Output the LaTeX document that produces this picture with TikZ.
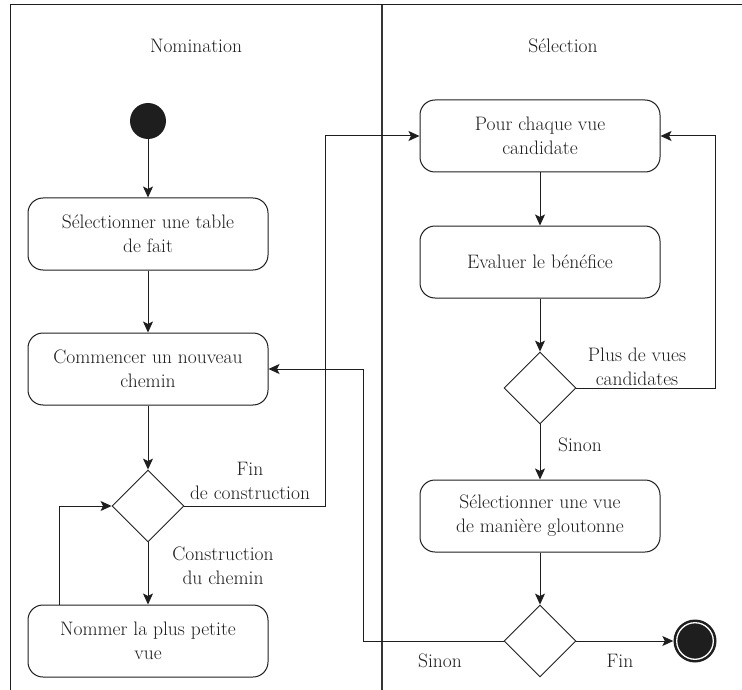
\documentclass[tikz,border=0pt]{standalone}
\usepackage{fontspec}
\usetikzlibrary{shapes.geometric,arrows.meta}
\definecolor{ink}{HTML}{1E1E1E}
\begin{document}
\begin{tikzpicture}[x=1pt,y=-1pt,
  every node/.style={font=\fontsize{19.5}{24}\selectfont, text=ink},
  act/.style={draw=ink, line width=1pt, rounded corners=15pt,
    minimum width=240pt, minimum height=72pt, align=center, inner sep=4pt},
  choice/.style={draw=ink, line width=0.9pt, diamond, minimum width=72pt,
    minimum height=72pt, inner sep=0pt},
  flow/.style={draw=ink, line width=1pt,
    -{Stealth[length=11pt,width=10pt,inset=2.5pt]}},
  lbl/.style={align=center, inner sep=0pt},
  lane/.style={draw=ink, line width=1pt}
]
\useasboundingbox (0,0) rectangle (742,690);

% swimlane frame
\draw[lane] (10,690) -- (10,5) -- (742,5);
\draw[draw=ink!90, line width=2.2pt] (382,5) -- (382,690);
\node[lbl] (laneA) at (196,46) {Nomination};
\node[lbl] (laneB) at (563,46) {Sélection};

% Nomination lane
\node[circle, fill=ink, minimum size=36pt, inner sep=0pt] (start) at (148,121) {};
\node[act] (fact)  at (148,234) {Sélectionner une table\\de fait};
\node[act] (path)  at (148,369) {Commencer un nouveau\\chemin};
\node[choice] (d1) at (148,506) {};
\node[act] (small) at (148,641) {Nommer la plus petite\\vue};

% Sélection lane
\node[act] (each)  at (540,136) {Pour chaque vue\\candidate};
\node[act] (gain)  at (540,262) {Evaluer le bénéfice};
\node[choice] (d2) at (540,388) {};
\node[act] (greedy) at (540,516) {Sélectionner une vue\\de manière gloutonne};
\node[choice] (d3) at (540,641) {};
\node[circle, fill=ink, minimum size=43pt, inner sep=0pt] (stop) at (695,641) {};
\draw[white, line width=1.3pt] (stop.center) circle (18.3);

% routing columns for the elbow connectors
\coordinate (jogA) at (325,0);
\coordinate (jogB) at (715,0);
\coordinate (jogC) at (363,0);

% connectors
\draw[flow] (start) -- (fact);
\draw[flow] (fact) -- (path);
\draw[flow] (path) -- (d1);
\draw[flow] (d1) -- (small);
\draw[flow] (small.north west) ++(32,0) |- (d1.west);
\draw[flow] (d1.east) -| (jogA |- each.west) -- (each.west);
\draw[flow] (each) -- (gain);
\draw[flow] (gain) -- (d2);
\draw[flow] (d2.east) -| (jogB |- each.east) -- (each.east);
\draw[flow] (d2) -- (greedy);
\draw[flow] (greedy) -- (d3);
\draw[flow] (d3.west) -| (jogC |- path.east) -- (path.east);
\draw[flow] (d3.east) -- (stop);

% guard labels
\node[lbl] (gEnd)   at (250,481) {Fin\\de construction};
\node[lbl] (gBuild) at (223,566) {Construction\\du chemin};
\node[lbl] (gMore)  at (637,367) {Plus de vues\\candidates};
\node[lbl] (gElse1) at (580,445) {Sinon};
\node[lbl] (gElse2) at (440,661) {Sinon};
\node[lbl] (gFin)   at (620,661) {Fin};
\end{tikzpicture}
\end{document}
